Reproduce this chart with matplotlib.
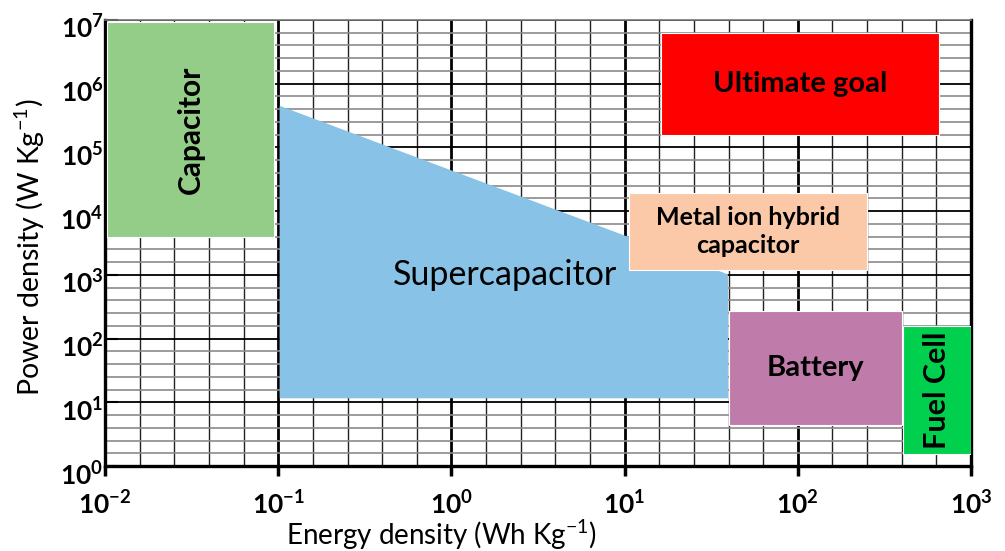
import numpy as np
import matplotlib
matplotlib.use("Agg")
import matplotlib.pyplot as plt
from matplotlib.patches import Polygon, Rectangle
from matplotlib.ticker import FixedLocator, FixedFormatter, NullFormatter
from matplotlib.transforms import ScaledTranslation

plt.rcParams["font.family"] = ["Lato", "DejaVu Sans"]
plt.rcParams["mathtext.fontset"] = "custom"
plt.rcParams["mathtext.rm"] = "Lato"
plt.rcParams["mathtext.bf"] = "Lato:bold"

# Ragone regions: energy density (Wh/kg) x power density (W/kg)
capacitor = dict(x=(0.0103, 0.095), y=(3.9e3, 9.3e6))
supercap_x = [0.102, 39.5, 39.5, 0.102]
supercap_y = [4.5e5, 1.02e3, 11.6, 11.6]
hybrid = dict(x=(10.6, 251), y=(1.19e3, 1.92e4))
goal = dict(x=(16.2, 653), y=(1.57e5, 6.3e6))
battery = dict(x=(40, 398), y=(4.5, 270))
fuel_cell = dict(x=(405, 1000), y=(1.54, 157))

x_decades = [-2, -1, 0, 1, 2, 3]
y_decades = [0, 1, 2, 3, 4, 5, 6, 7]


def logmid(a, b):
    return 10 ** ((np.log10(a) + np.log10(b)) / 2)


def box(ax, r, color):
    (x0, x1), (y0, y1) = r["x"], r["y"]
    ax.add_patch(Rectangle((x0, y0), x1 - x0, y1 - y0, facecolor=color,
                           edgecolor="white", lw=0.8, zorder=3))
    return logmid(x0, x1), logmid(y0, y1)


fig = plt.figure(figsize=(10.05, 5.51), dpi=100)
ax = fig.add_axes([0.1045, 0.154, 0.8617, 0.8097])
ax.set_xscale("log")
ax.set_yscale("log")
ax.set_xlim(1e-2, 1e3)
ax.set_ylim(1e0, 1e7)

# grid: five even steps inside each decade
ax.xaxis.set_major_locator(FixedLocator([10.0 ** k for k in x_decades]))
ax.yaxis.set_major_locator(FixedLocator([10.0 ** k for k in y_decades]))
ax.xaxis.set_minor_locator(FixedLocator(
    [10 ** (k + j / 5) for k in x_decades[:-1] for j in range(1, 5)]))
ax.yaxis.set_minor_locator(FixedLocator(
    [10 ** (k + j / 5) for k in y_decades[:-1] for j in range(1, 5)]))
ax.xaxis.set_minor_formatter(NullFormatter())
ax.yaxis.set_minor_formatter(NullFormatter())
ax.xaxis.set_major_formatter(FixedFormatter(
    [r"$\mathbf{10^{%d}}$" % k for k in x_decades]))
ax.yaxis.set_major_formatter(FixedFormatter(
    [r"$\mathbf{10^{%d}}$" % k for k in y_decades]))

ax.set_axisbelow(True)
ax.grid(True, which="major", axis="x", color="black", lw=2.0)
ax.grid(True, which="minor", axis="x", color="#222222", lw=1.0)
ax.grid(True, which="major", axis="y", color="black", lw=1.3)
ax.grid(True, which="minor", axis="y", color="#8a8a8a", lw=1.2)

ax.tick_params(axis="x", which="major", direction="out", length=7, width=2.5,
               labelsize=19, pad=11)
ax.tick_params(axis="y", which="major", direction="in", length=9, width=1.5,
               labelsize=19, pad=1)
ax.tick_params(which="minor", length=0)

# y labels sit a little below their ticks
shift = ScaledTranslation(0, -5 / 72, fig.dpi_scale_trans)
for lbl in ax.get_yticklabels():
    lbl.set_transform(lbl.get_transform() + shift)

for side in ("left", "bottom", "right"):
    ax.spines[side].set_linewidth(2.4)
    ax.spines[side].set_color("black")
ax.spines["top"].set_linewidth(1.2)
ax.spines["top"].set_color("#777777")

# regions
cx, cy = box(ax, capacitor, "#93cd88")
ax.text(cx, cy, "Capacitor", rotation=90, ha="center", va="center",
        fontsize=21.5, fontweight="bold", zorder=5)

ax.add_patch(Polygon(list(zip(supercap_x, supercap_y)), closed=True,
                     facecolor="#88c2e6", edgecolor="none", zorder=2))
ax.text(2.04, 1.0e3, "Supercapacitor", ha="center", va="center",
        fontsize=24.5, zorder=5)

cx, cy = box(ax, hybrid, "#fbc8a8")
ax.text(cx, cy, "Metal ion hybrid\ncapacitor", ha="center", va="center",
        fontsize=18, fontweight="bold", linespacing=1.25, zorder=5)

cx, cy = box(ax, goal, "#ff0000")
ax.text(cx, cy, "Ultimate goal", ha="center", va="center",
        fontsize=21, fontweight="bold", zorder=5)

cx, cy = box(ax, battery, "#bf7caa")
ax.text(cx, cy, "Battery", ha="center", va="center",
        fontsize=21, fontweight="bold", zorder=5)

cx, cy = box(ax, fuel_cell, "#00d04e")
ax.text(cx, cy, "Fuel Cell", rotation=90, ha="center", va="center",
        fontsize=22, fontweight="bold", zorder=5)

ax.set_xlabel(r"Energy density (Wh Kg$^{\mathregular{-1}}$)", fontsize=20)
ax.xaxis.set_label_coords(0.389, -0.114)
ax.set_ylabel(r"Power density (W Kg$^{\mathregular{-1}}$)", fontsize=20.5)
ax.yaxis.set_label_coords(-0.067, 0.49)

fig.savefig("out.png", dpi=100)
